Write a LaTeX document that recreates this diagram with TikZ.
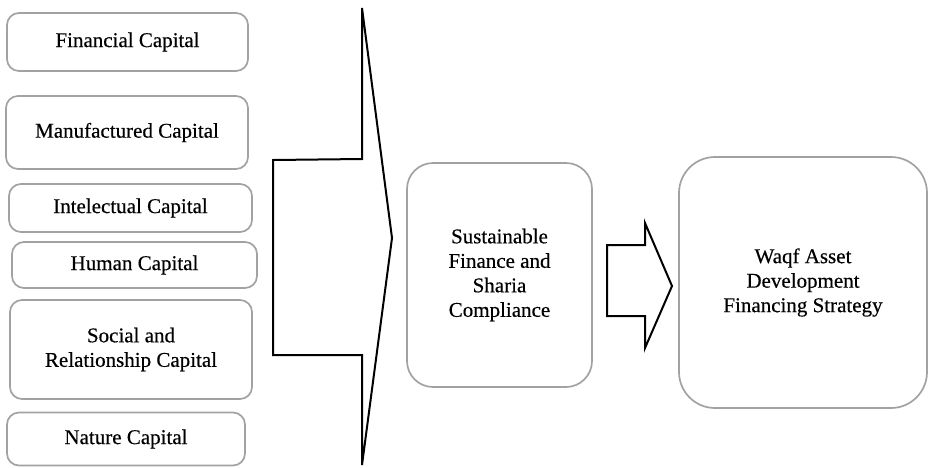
\documentclass[tikz,border=0pt]{standalone}
\usepackage{fontspec}
\setmainfont{Liberation Serif}
\newfontfamily\boxfont[FakeBold=0.4]{Liberation Serif}
\begin{document}
\begin{tikzpicture}[x=1pt,y=-1pt,
  capbox/.style={draw=boxgray, line width=1.7pt, rounded corners=12pt, inner sep=0pt, align=center,
    font=\boxfont\fontsize{21}{24.5}\selectfont, text=black},
  blockarrow/.style={draw=black, line width=2pt, fill=white, line join=miter}]
\definecolor{boxgray}{HTML}{A2A2A2}
\useasboundingbox (0,0) rectangle (929,467);
% left boxes
\node[capbox, minimum width=241pt, minimum height=58pt] (fin) at (127.5,42) {Financial Capital};
\node[capbox, minimum width=242pt, minimum height=73pt] (man) at (127,132.5) {Manufactured Capital};
\node[capbox, minimum width=243pt, minimum height=48pt] (int) at (130.5,208) {Intelectual Capital};
\node[capbox, minimum width=245pt, minimum height=46pt] (hum) at (134.5,265) {Human Capital};
\node[capbox, minimum width=242pt, minimum height=99pt] (soc) at (131,349.5) {Social and\\Relationship Capital};
\node[capbox, minimum width=238pt, minimum height=53pt] (nat) at (126,439) {Nature Capital};
% big block arrow
\draw[blockarrow] (362,8) -- (362,159) -- (273,160) -- (273,355) -- (362,355) -- (362,465) -- (392,238) -- cycle;
% middle box
\node[capbox, rounded corners=26pt, minimum width=185pt, minimum height=224pt] (sus) at (499.5,275)
  {Sustainable\\Finance and\\Sharia\\Compliance};
% small block arrow
\draw[blockarrow] (607,245) -- (645,245) -- (645,223) -- (672,286) -- (645,348) -- (645,316) -- (607,316) -- cycle;
% right box
\node[capbox, rounded corners=36pt, minimum width=248pt, minimum height=251pt] (waqf) at (803,282.5)
  {Waqf Asset\\Development\\Financing Strategy};
\end{tikzpicture}
\end{document}
